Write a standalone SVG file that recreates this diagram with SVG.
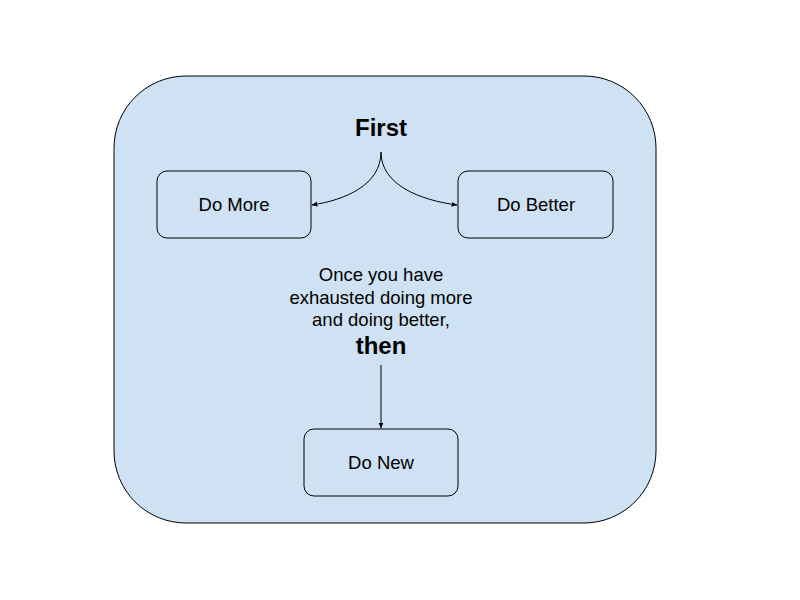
<svg xmlns="http://www.w3.org/2000/svg" width="800" height="600" viewBox="0 0 800 600">
<style>
.box{fill:#cfe2f3;stroke:#000;stroke-width:1}
.t{font-family:"Liberation Sans",Arial,sans-serif;font-size:18.5px;fill:#000;text-anchor:middle}
.b{font-family:"Liberation Sans",Arial,sans-serif;font-size:24px;font-weight:bold;fill:#000;text-anchor:middle}
.c{fill:none;stroke:#000;stroke-width:1}
</style>
<defs>
<marker id="arr" viewBox="0 0 10 10" refX="9" refY="5" markerWidth="6" markerHeight="6" orient="auto" markerUnits="userSpaceOnUse">
<path d="M0,1 L10,5 L0,9 z" fill="#000"/>
</marker>
</defs>
<g id="container"><rect class="box" x="114" y="76" width="542" height="447" rx="72" ry="72"/></g>
<g id="first-label"><text class="b" x="381" y="136">First</text></g>
<g id="do-more"><rect class="box" x="157" y="171" width="154" height="67" rx="10" ry="10"/><text class="t" x="234" y="211">Do More</text></g>
<g id="do-better"><rect class="box" x="458" y="171" width="155" height="67" rx="10" ry="10"/><text class="t" x="536" y="211">Do Better</text></g>
<g id="then-label"><text class="t" x="381" y="281">Once you have</text><text class="t" x="381" y="304">exhausted doing more</text><text class="t" x="381" y="326">and doing better,</text><text class="b" x="381" y="354">then</text></g>
<g id="do-new"><rect class="box" x="304" y="429" width="154" height="67" rx="10" ry="10"/><text class="t" x="381" y="469">Do New</text></g>
<g id="connectors">
<path class="c" d="M381,152 C381,185 345,200 312,205" marker-end="url(#arr)"/>
<path class="c" d="M381,152 C381,185 420,200 457,205" marker-end="url(#arr)"/>
<path class="c" d="M381,365 L381,428" marker-end="url(#arr)"/>
</g>
</svg>
